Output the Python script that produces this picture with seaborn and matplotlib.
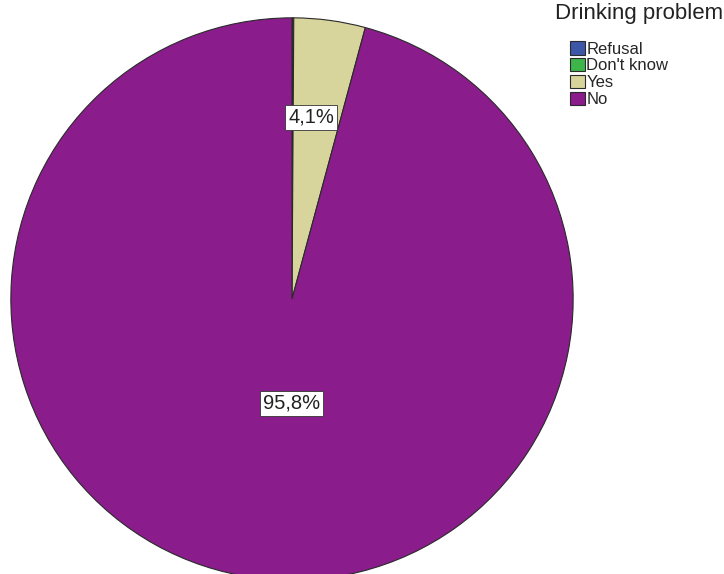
import numpy as np
import matplotlib
matplotlib.use("Agg")
import matplotlib.pyplot as plt
import seaborn as sns

sns.set_theme(style="white")
plt.rcParams["font.family"] = ["Liberation Sans", "DejaVu Sans"]

# data
categories = ["Refusal", "Don't know", "Yes", "No"]
percents = [0.05, 0.05, 4.1, 95.8]
colors = ["#3D56A8", "#3DB54A", "#D7D49C", "#8B1C8C"]

# label placement (distance from centre, angle shift in degrees)
label_dist = [0.0, 0.0, 0.65, 0.37]
label_shift = [0.0, 0.0, 1.7, 7.5]

fig = plt.figure(figsize=(7.24, 5.74), dpi=100)
ax = fig.add_axes([10 / 724, -7 / 574, 564 / 724, 564 / 574])

wedges, _ = ax.pie(
    percents, colors=colors, startangle=90, counterclock=False,
    wedgeprops={"edgecolor": "#2a2a2a", "linewidth": 0.8},
)
ax.set_xlim(-1.003, 1.003)
ax.set_ylim(-1.003, 1.003)
ax.set_aspect("equal")
ax.axis("off")

for w, p, d, s in zip(wedges, percents, label_dist, label_shift):
    if p < 1:
        continue
    ang = np.deg2rad((w.theta1 + w.theta2) / 2 + s)
    ax.text(d * np.cos(ang), d * np.sin(ang), f"{p:.1f}%".replace(".", ","),
            ha="center", va="center", fontsize=14.5, color="#222222",
            bbox=dict(boxstyle="square,pad=0.15", fc="white", ec="#333333", lw=0.6))

fig.text(555 / 724, 1 - 14 / 574, "Drinking problem", ha="left", va="center",
         fontsize=16, color="#222222")
leg = fig.legend(wedges, categories, loc="upper left",
                 bbox_to_anchor=(562 / 724, 1 - 33 / 574), frameon=False,
                 fontsize=12, handlelength=0.85, handleheight=0.85,
                 handletextpad=0.12, labelspacing=0.08, borderpad=0)

fig.savefig("out.png", dpi=100, facecolor="white")
